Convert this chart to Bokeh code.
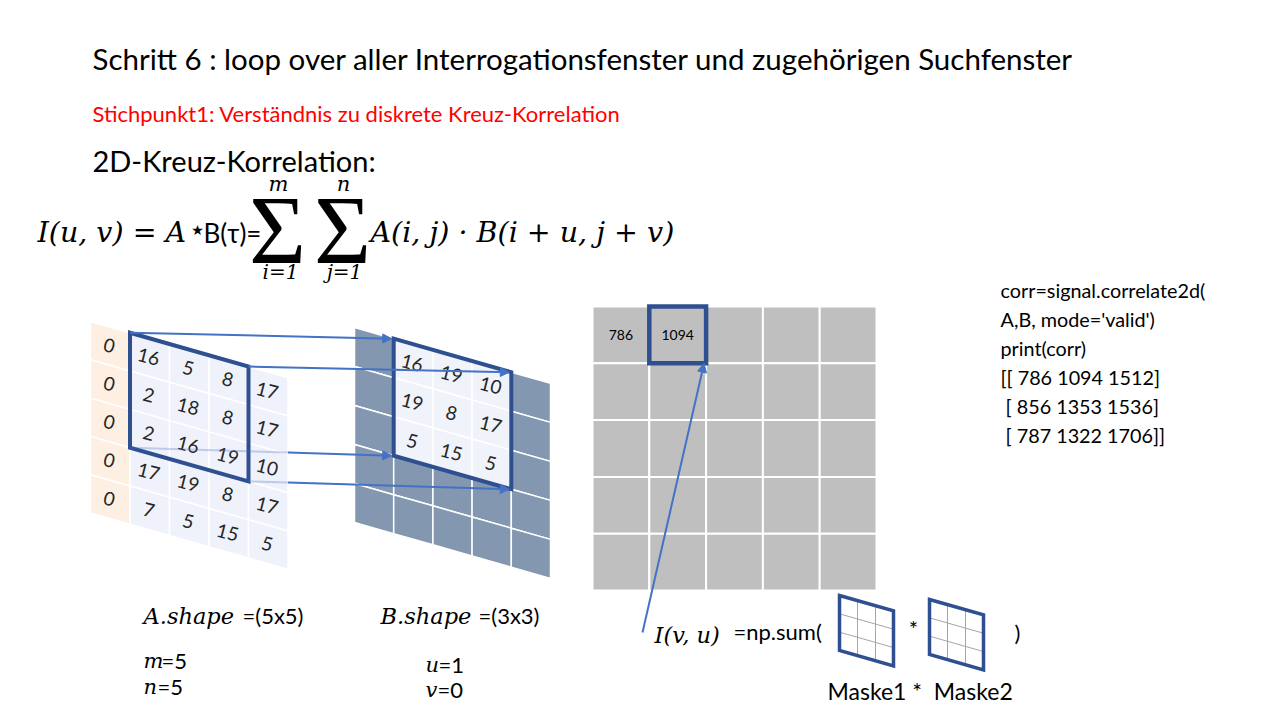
import numpy as np
from bokeh.plotting import figure
from bokeh.models import Range1d, Arrow, NormalHead
from bokeh.core.properties import value
from bokeh.embed import file_html
from bokeh.resources import INLINE

# --- data -------------------------------------------------------------
A = [[0, 16, 5, 8, 17],
     [0, 2, 18, 8, 17],
     [0, 2, 16, 19, 10],
     [0, 17, 19, 8, 17],
     [0, 7, 5, 15, 5]]
B = [[16, 19, 10],
     [19, 8, 17],
     [5, 15, 5]]
corr = [[786, 1094, 1512],
        [856, 1353, 1536],
        [787, 1322, 1706]]
u, v = 1, 0
m, n = 5, 5
a_win = (0, 1)          # row, col of the 3x3 window in A
b_size = 5              # drawn size of the search window
out_size = 5            # drawn size of the result grid
code_lines = ["corr=signal.correlate2d(",
              "A,B, mode='valid')",
              "print(corr)"]
code_lines += [("[[ " if i == 0 else "\u00a0[ ") + " ".join(str(c) for c in row)
               + ("]]" if i == len(corr) - 1 else "]") for i, row in enumerate(corr)]

SANS = "Lato"
SERIF = "DejaVu Serif"
DARK = "#2F5090"
ARROW = "#4472C4"

p = figure(width=1264, height=704, x_range=Range1d(0, 1264), y_range=Range1d(704, 0),
           output_backend="svg", toolbar_location=None, min_border=0,
           x_axis_location=None, y_axis_location=None)
p.grid.visible = False
p.outline_line_color = None


def label(x, y, s, size, font=SANS, style="normal", color="black", align="left", angle=0.0):
    p.text(x=[x], y=[y], text=[s], text_font=value(font), text_font_size=f"{size}px",
           text_font_style=style, text_color=color, text_align=align,
           text_baseline="middle", angle=angle)


def skew_cell(x0, y0, dx, dy, sh, r, c):
    xl, xr = x0 + c * dx, x0 + (c + 1) * dx
    yt = y0 + r * dy
    return ([xl, xr, xr, xl],
            [yt + sh * (xl - x0), yt + sh * (xr - x0), yt + dy + sh * (xr - x0), yt + dy + sh * (xl - x0)])


def skew_pt(x0, y0, dx, dy, sh, r, c):
    x = x0 + c * dx
    return x, y0 + r * dy + sh * (x - x0)


# --- titles -----------------------------------------------------------
label(92, 58, "Schritt 6 : loop over aller Interrogationsfenster und zugehörigen Suchfenster", 29.5)
label(92, 113, "Stichpunkt1: Verständnis zu diskrete Kreuz-Korrelation", 22, color="#FF0000")
label(92, 160, "2D-Kreuz-Korrelation:", 29)

# --- formula ----------------------------------------------------------
label(37, 232, "I(u, v) = A", 28.5, font=SERIF, style="italic")
label(197, 229, "\u2605", 14, font="DejaVu Sans", align="center")
label(203, 232, "B(\u03c4)=", 26, font=SANS)
label(277, 229, "\u03a3", 98, font="Liberation Serif", align="center")
label(342, 229, "\u03a3", 98, font="Liberation Serif", align="center")
label(278, 183, "m", 21, font=SERIF, style="italic", align="center")
label(343, 183, "n", 21, font=SERIF, style="italic", align="center")
label(280, 271, "i=1", 20, font=SERIF, style="italic", align="center")
label(344, 271, "j=1", 20, font=SERIF, style="italic", align="center")
label(370, 232, "A(i, j) \u00b7 B(i + u, j + v)", 28.5, font=SERIF, style="italic")

# --- matrix A (skewed) ------------------------------------------------
AX0, AY0, ADX, ADY, SH = 90, 321, 39.5, 38.3, 0.285
xs, ys, fills = [], [], []
for r in range(len(A)):
    for c in range(len(A[0])):
        cx, cy = skew_cell(AX0, AY0, ADX, ADY, SH, r, c)
        xs.append(cx)
        ys.append(cy)
        fills.append("#FDF0E3" if c == 0 else "#EFF2FA")
p.patches(xs, ys, fill_color=fills, line_color="white", line_width=1.5)

# --- matrix B (skewed search window) ----------------------------------
BX0, BY0, BDX, BDY = 354, 327, 39.2, 39.0
xs, ys, fills = [], [], []
for r in range(b_size):
    for c in range(b_size):
        cx, cy = skew_cell(BX0, BY0, BDX, BDY, SH, r, c)
        xs.append(cx)
        ys.append(cy)
        inside = v <= r < v + len(B) and u <= c < u + len(B[0])
        fills.append("#F0F3FA" if inside else "#8497B0")
p.patches(xs, ys, fill_color=fills, line_color="white", line_width=1.5)

a_corners = [skew_pt(AX0, AY0, ADX, ADY, SH, a_win[0] + dr, a_win[1] + dc)
             for dr, dc in [(0, 0), (0, 3), (3, 0), (3, 3)]]
b_corners = [skew_pt(BX0, BY0, BDX, BDY, SH, v + dr, u + dc)
             for dr, dc in [(0, 0), (0, 3), (3, 0), (3, 3)]]

# numbers in A
tx, ty, tt = [], [], []
for r in range(len(A)):
    for c in range(len(A[0])):
        x, y = skew_pt(AX0, AY0, ADX, ADY, SH, r + 0.5, c + 0.5)
        tx.append(x - 1)
        ty.append(y - 1)
        tt.append(str(A[r][c]))
p.text(tx, ty, tt, text_font=value(SANS), text_font_size="19px", text_color="#262626",
       text_align="center", text_baseline="middle", angle=-0.25)

# numbers in B
tx, ty, tt = [], [], []
for r in range(len(B)):
    for c in range(len(B[0])):
        x, y = skew_pt(BX0, BY0, BDX, BDY, SH, v + r + 0.5, u + c + 0.5)
        tx.append(x - 1)
        ty.append(y - 1)
        tt.append(str(B[r][c]))
p.text(tx, ty, tt, text_font=value(SANS), text_font_size="19px", text_color="#262626",
       text_align="center", text_baseline="middle", angle=-0.25)

# window outlines
for corners in (a_corners, b_corners):
    p.patch([corners[0][0], corners[1][0], corners[3][0], corners[2][0]],
            [corners[0][1], corners[1][1], corners[3][1], corners[2][1]],
            fill_alpha=0, line_color=DARK, line_width=4, line_join="miter")

# arrows A window -> B window (lower two run faintly behind A)
cut_x = AX0 + len(A[0]) * ADX
for i, ((xa, ya), (xb, yb)) in enumerate(zip(a_corners, b_corners)):
    xb -= 2
    if i >= 2:
        yc = ya + (yb - ya) * (cut_x - xa) / (xb - xa)
        p.line([xa, cut_x], [ya, yc], line_color=ARROW, line_width=2, line_alpha=0.3)
        xa, ya = cut_x, yc
    p.add_layout(Arrow(x_start=xa, y_start=ya, x_end=xb, y_end=yb, line_color=ARROW, line_width=2,
                       end=NormalHead(size=9, fill_color=ARROW, line_color=ARROW)))

# --- result grid ------------------------------------------------------
GX0, GY0, GD = 592, 306, 56.8
gl, gr, gt, gb = [], [], [], []
for r in range(out_size):
    for c in range(out_size):
        gl.append(GX0 + c * GD)
        gr.append(GX0 + (c + 1) * GD)
        gt.append(GY0 + r * GD)
        gb.append(GY0 + (r + 1) * GD)
p.quad(left=gl, right=gr, top=gt, bottom=gb, fill_color="#BFBFBF", line_color="white", line_width=2)
shown = [(0, 0), (v, u)]
p.text([GX0 + (c + 0.5) * GD for r, c in shown], [GY0 + (r + 0.5) * GD for r, c in shown],
       [str(corr[r][c]) for r, c in shown], text_font=value(SANS), text_font_size="14px",
       text_color="black", text_align="center", text_baseline="middle")
p.quad(left=[GX0 + u * GD], right=[GX0 + (u + 1) * GD], top=[GY0 + v * GD], bottom=[GY0 + (v + 1) * GD],
       fill_alpha=0, line_color=DARK, line_width=4.5, line_join="miter")
p.add_layout(Arrow(x_start=642, y_start=632, x_end=GX0 + (u + 1) * GD - 2, y_end=GY0 + (v + 1) * GD,
                   line_color=ARROW, line_width=2,
                   end=NormalHead(size=9, fill_color=ARROW, line_color=ARROW)))

# --- np.sum( mask * mask ) --------------------------------------------
label(654, 634, "I(v, u)", 22.5, font=SERIF, style="italic")
label(733, 631, "=np.sum(", 22)
for mx, my in [(839, 595), (929, 599)]:
    w, h = 54, 55 / 3
    for k in range(1, 3):
        p.line([mx, mx + w], [my + k * h, my + k * h + SH * w], line_color="#A6A6A6", line_width=1)
        p.line([mx + k * w / 3, mx + k * w / 3], [my + SH * k * w / 3, my + 3 * h + SH * k * w / 3],
               line_color="#A6A6A6", line_width=1)
    p.patch([mx, mx + w, mx + w, mx], [my, my + SH * w, my + 3 * h + SH * w, my + 3 * h],
            fill_alpha=0, line_color=DARK, line_width=3.5, line_join="miter")
label(913, 628, "*", 22, align="center")
label(1017, 632, ")", 22, align="center")
label(827, 690, "Maske1 *\u00a0\u00a0Maske2", 23)

# --- code block -------------------------------------------------------
for i, s in enumerate(code_lines):
    label(1000, 289 + 29 * i, s, 19.8)

# --- shapes -----------------------------------------------------------
label(143, 615, "A.shape", 22.5, font=SERIF, style="italic")
label(242, 615, f"=({m}x{n})", 22)
label(380, 615, "B.shape", 22.5, font=SERIF, style="italic")
label(478, 615, f"=({len(B)}x{len(B[0])})", 22)
label(143, 660, "m", 21, font=SERIF, style="italic")
label(161, 660, f"={m}", 22)
label(143, 686, "n", 21, font=SERIF, style="italic")
label(157, 686, f"={n}", 22)
label(425, 664, "u", 21, font=SERIF, style="italic")
label(438, 664, f"={u}", 22)
label(425, 689, "v", 21, font=SERIF, style="italic")
label(437, 689, f"={v}", 22)

open("out.html", "w").write(file_html(p, INLINE))
